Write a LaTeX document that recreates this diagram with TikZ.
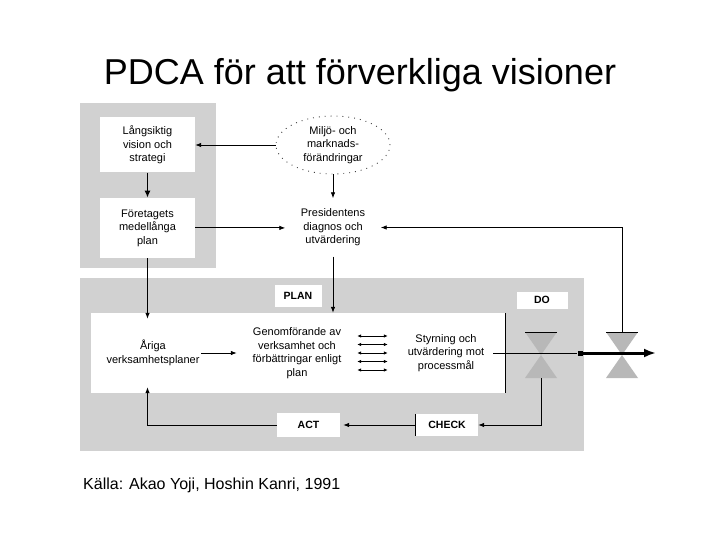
\documentclass[tikz,border=0pt]{standalone}
\usepackage{fontspec}
\setmainfont{Liberation Sans}
\usetikzlibrary{shapes.geometric, arrows.meta, positioning, calc}

\begin{document}
\begin{tikzpicture}[
    x=1pt, y=-1pt,
    font=\fontsize{11}{13.5}\selectfont,
    shade_area/.style={fill=black!18, draw=none},
    white_block/.style={rectangle, fill=white, align=center, minimum width=95pt, inner sep=1pt},
    text_block/.style={rectangle, align=center, inner sep=1pt},
    pdca_label/.style={rectangle, fill=white, font=\fontsize{10.5}{12}\selectfont\bfseries, inner sep=0pt},
    env_cloud/.style={ellipse, draw=black!75, line width=0.9pt, dash pattern=on 0.9pt off 5pt, minimum width=114pt, minimum height=58pt, align=center, inner sep=0pt},
    flow/.style={-{Latex[length=6pt, width=4.5pt]}, line width=0.8pt},
    thick_flow/.style={-{Latex[length=7pt, width=6pt]}, line width=1.5pt},
    both_flow/.style={{Latex[length=4pt, width=3.5pt]}-{Latex[length=4pt, width=3.5pt]}, line width=0.8pt},
    out_flow/.style={-{Latex[length=12pt, width=9pt]}, line width=3pt},
    valve/.style={fill=black!28, draw=none}
]
    \useasboundingbox (0,0) rectangle (720,540);
    \fill[white] (0,0) rectangle (720,540);

    % Title
    \node[font=\fontsize{36}{40}\selectfont] (title) at (360,75) {PDCA för att förverkliga visioner};

    % Upper shaded area
    \fill[shade_area] (80,103) rectangle (216,268);
    \node[white_block, minimum height=55pt] (langsiktig) at (147.5,145) {Långsiktig\\vision och\\strategi};
    \node[white_block, minimum height=60pt, below=25pt of langsiktig] (foretag) {Företagets\\medellånga\\plan};
    \node[env_cloud] (miljo) at (333,145) {Miljö- och\\marknads-\\förändringar};
    \node[text_block, minimum width=95pt, minimum height=58pt] (pres) at (333,227.5) {Presidentens\\diagnos och\\utvärdering};

    % Lower shaded area
    \fill[shade_area] (80,278) rectangle (584,451);
    \fill[white] (91,313) rectangle (505,393);
    \draw[line width=0.8pt] (505,313) -- (505,393);

    \node[text_block, minimum width=96pt, minimum height=68pt] (aringa) at (153,353) {Åriga\\verksamhetsplaner};
    \node[text_block, minimum width=120pt, minimum height=80pt] (genom) at (297,353) {Genomförande av\\verksamhet och\\förbättringar enligt\\plan};
    \node[text_block, minimum width=94pt] (styr) at (446,353) {Styrning och\\utvärdering mot\\processmål};

    % PDCA labels
    \node[pdca_label, minimum width=47pt, minimum height=22pt] (plan) at (298,296) {PLAN};
    \node[pdca_label, minimum width=51pt, minimum height=17pt] (do) at (542,300) {DO};
    \node[pdca_label, minimum width=63pt, minimum height=24pt] (act) at (308.5,425) {ACT};
    \node[pdca_label, minimum width=62pt, minimum height=22pt] (check) at (447,425) {CHECK};
    \draw[line width=0.8pt] (check.north west) -- (check.south west);

    % Valves
    \foreach \vx/\vname in {541/valveA, 622/valveB} {
        \fill[valve] (\vx-16,332) -- (\vx+16,332) -- (\vx,355) -- cycle;
        \fill[valve] (\vx,355) -- (\vx-16,378) -- (\vx+16,378) -- cycle;
        \draw[line width=0.8pt] (\vx-16,332) -- (\vx+16,332);
        \coordinate (\vname_top) at (\vx,332);
        \coordinate (\vname_bot) at (\vx,378);
    }

    % Output
    \node[fill=black, inner sep=0pt, minimum size=5pt] (sq) at (580,353) {};
    \coordinate (result) at (656,353);
    \draw[line width=0.8pt] (styr.east) -- (sq.west);
    \draw[out_flow] (sq.east) -- (result);

    % Connections
    \draw[flow] (miljo.west) -- (miljo.west -| langsiktig.east);
    \draw[thick_flow] (langsiktig.south) -- (foretag.north);
    \draw[flow] (foretag.east) -- (foretag.east -| pres.west);
    \draw[flow] (miljo.south) -- (pres.north);
    \draw[flow] (valveB_top) |- (pres.east);
    \draw[flow] (foretag.south) -- (foretag.south |- aringa.north);
    \draw[flow] (pres.south) -- (pres.south |- genom.north);
    \draw[flow] (aringa.east) -- (aringa.east -| genom.west);
    \foreach \dy in {-17,-8.5,0,8.5,17}
        \draw[both_flow] ([yshift=\dy pt]genom.east) -- ([xshift=-11pt, yshift=\dy pt]styr.west);
    \draw[flow] (valveA_bot) |- (check.east);
    \draw[flow, shorten >=3pt] (check.west) -- (act.east);
    \draw[flow] (act.west) -| (foretag.south |- aringa.south);

    % Source
    \node[anchor=west, inner sep=0pt, font=\fontsize{16}{18}\selectfont] (source) at (83,485) {Källa: Akao Yoji, Hoshin Kanri, 1991};

\end{tikzpicture}
\end{document}
